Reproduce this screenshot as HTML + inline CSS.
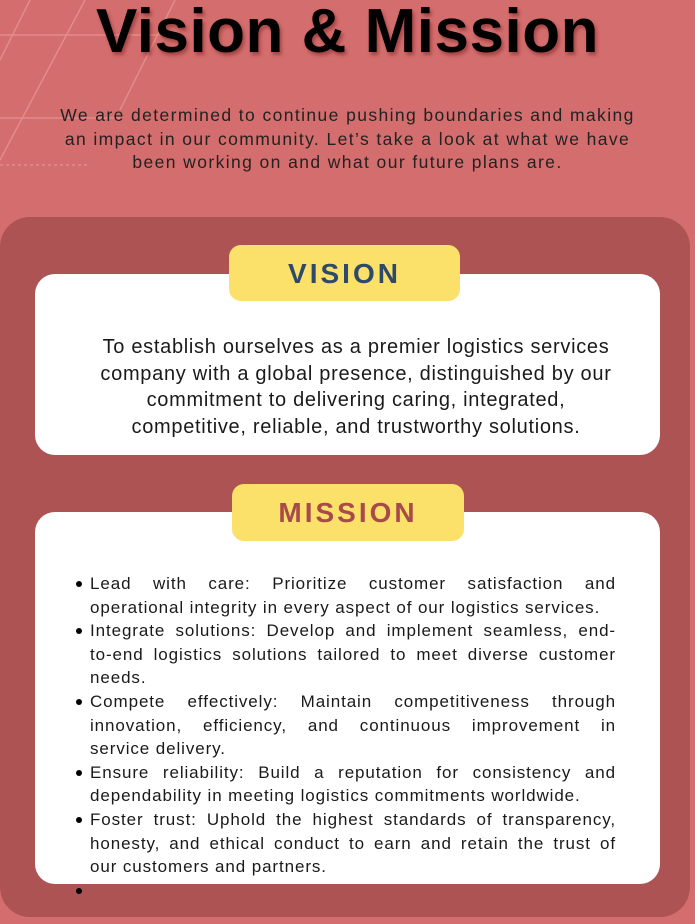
<!DOCTYPE html>
<html><head><meta charset="utf-8"><style>
html,body{margin:0;padding:0;}
body{width:695px;height:924px;background:#d46d6d;position:relative;overflow:hidden;font-family:"Liberation Sans",sans-serif;}
.abs{position:absolute;}
h1{position:absolute;left:0;width:695px;top:-4px;margin:0;text-align:center;font-size:62px;font-weight:bold;color:#000;text-shadow:2px 3px 3px rgba(120,30,30,.5);letter-spacing:0.5px;}
.sub{left:0;width:695px;top:104px;text-align:center;font-size:17.5px;line-height:23.5px;color:#222;letter-spacing:1.4px;white-space:nowrap;}
.panel{left:0;top:217px;width:690px;height:700px;background:#ad5353;border-radius:30px;}
.card{background:#fff;border-radius:20px;}
.tag{background:#fbe169;border-radius:12px;text-align:center;font-weight:bold;letter-spacing:3px;}
.vt{left:0;width:712px;top:334px;text-align:center;font-size:20px;line-height:26.5px;color:#1a1a1a;letter-spacing:0.7px;white-space:nowrap;}
.ml{position:absolute;left:90px;width:526px;top:572px;font-size:17px;line-height:23.6px;color:#1a1a1a;letter-spacing:0.9px;}
.j{text-align:justify;text-align-last:justify;white-space:nowrap;}
.l{white-space:nowrap;}
.b{position:relative;}
.b:before{content:"";position:absolute;left:-14px;top:9px;width:6px;height:6px;border-radius:50%;background:#000;}
</style></head><body>
<svg class="abs" style="left:0;top:0" width="240" height="170"><g stroke="#e89a9a" stroke-width="1.5" fill="none" opacity=".7"><line x1="30" y1="0" x2="0" y2="60"/><line x1="85" y1="0" x2="0" y2="160"/><line x1="175" y1="0" x2="120" y2="110"/><line x1="0" y1="35" x2="160" y2="35"/><line x1="0" y1="118" x2="120" y2="118"/><line x1="0" y1="165" x2="90" y2="165" stroke-dasharray="3 3"/></g></svg>
<h1>Vision &amp; Mission</h1>
<div class="abs sub">We are determined to continue pushing boundaries and making<br>an impact in our community. Let’s take a look at what we have<br>been working on and what our future plans are.</div>
<div class="abs panel"></div>
<div class="abs card" style="left:35px;top:274px;width:625px;height:181px"></div>
<div class="abs tag" style="left:229px;top:245px;width:231px;height:56px;line-height:58px;font-size:28px;color:#2e4a6b">VISION</div>
<div class="abs vt">To establish ourselves as a premier logistics services<br>company with a global presence, distinguished by our<br>commitment to delivering caring, integrated,<br>competitive, reliable, and trustworthy solutions.</div>
<div class="abs card" style="left:35px;top:512px;width:625px;height:372px"></div>
<div class="abs tag" style="left:232px;top:484px;width:232px;height:57px;line-height:58px;font-size:28px;color:#a84a4a">MISSION</div>
<div class="ml">
<div class="j b">Lead with care: Prioritize customer satisfaction and</div>
<div class="l">operational integrity in every aspect of our logistics services.</div>
<div class="j b">Integrate solutions: Develop and implement seamless, end-</div>
<div class="j">to-end logistics solutions tailored to meet diverse customer</div>
<div class="l">needs.</div>
<div class="j b">Compete effectively: Maintain competitiveness through</div>
<div class="j">innovation, efficiency, and continuous improvement in</div>
<div class="l">service delivery.</div>
<div class="j b">Ensure reliability: Build a reputation for consistency and</div>
<div class="l">dependability in meeting logistics commitments worldwide.</div>
<div class="j b">Foster trust: Uphold the highest standards of transparency,</div>
<div class="j">honesty, and ethical conduct to earn and retain the trust of</div>
<div class="l">our customers and partners.</div>
<div class="l b">&nbsp;</div>
</div>
</body></html>
